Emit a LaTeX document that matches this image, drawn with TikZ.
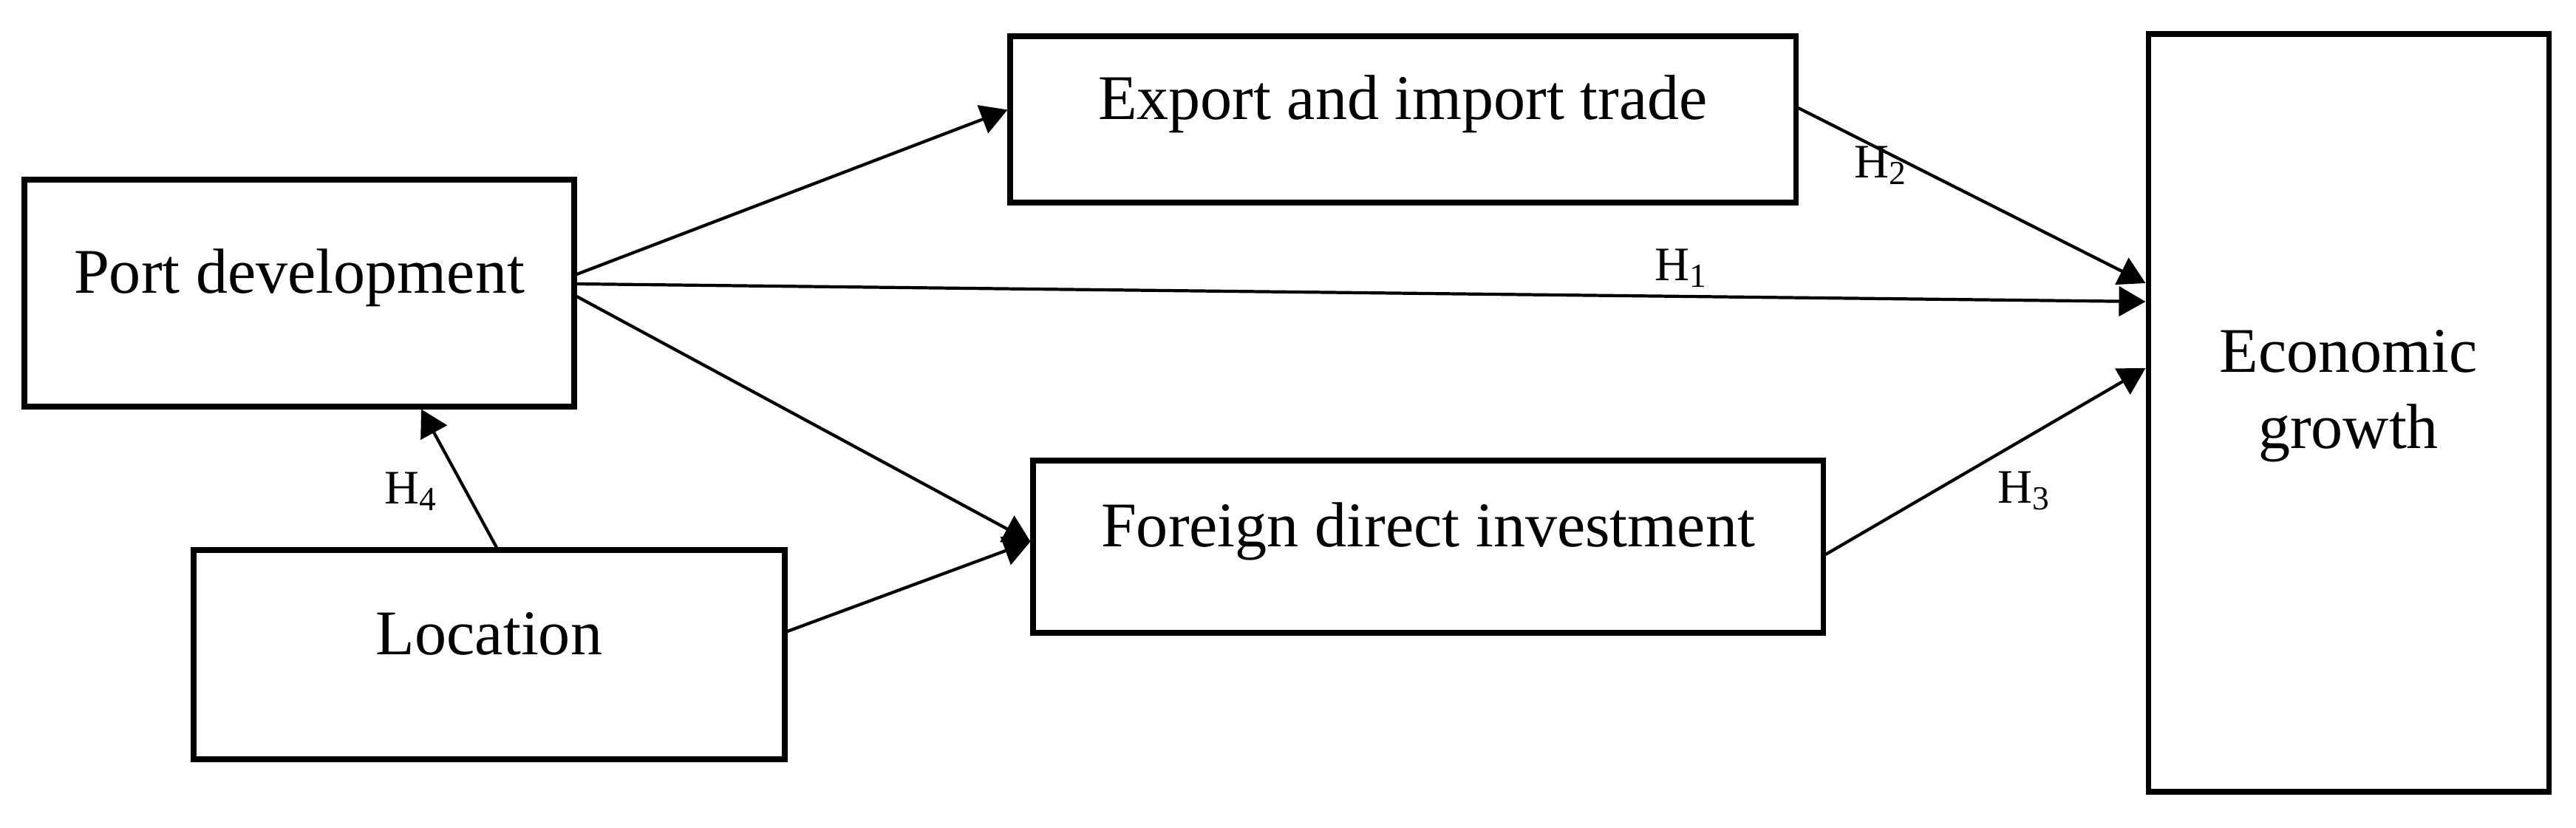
\documentclass[tikz,border=0pt]{standalone}
\usepackage{fontspec}
\setmainfont{Liberation Serif}
\usepackage{tikz}
\usetikzlibrary{arrows.meta}

\begin{document}
\begin{tikzpicture}[
        box/.style={draw=black, line width=2pt, inner sep=0pt, text height=6mm, text depth=6mm,
                    align=center, font=\fontsize{24.5}{29.3}\selectfont},
        hyp/.style={inner sep=0pt, anchor=base, font=\fontsize{18.5}{22}\selectfont},
        arr/.style={black, line width=1.2pt, -{Triangle[length=3.6mm,width=4mm]}}]
            \useasboundingbox (0,0) rectangle (34.86,-11.2);
            \node [box, minimum width=7.44cm, minimum height=3.07cm] (port) at (4.05,-3.965) {Port development};
            \node [box, minimum width=10.63cm, minimum height=2.25cm] (export) at (18.985,-1.615) {Export and import trade};
            \node [box, minimum width=10.69cm, minimum height=2.33cm] (fdi) at (19.325,-7.395) {Foreign direct investment};
            \node [box, minimum width=8.00cm, minimum height=2.83cm] (loc) at (6.62,-8.855) {Location};
            \node [box, minimum width=5.42cm, minimum height=10.25cm, text height=15.6mm] (econ) at (31.78,-5.585) {Economic\\growth};
            \draw [arr] ([yshift=2.55mm]port.east) -- ([yshift=1.3mm]export.west);
            \draw [arr] ([yshift=1.25mm]port.east) -- ([yshift=15.05mm]econ.west);
            \node [hyp] (h1) at (22.75,-3.79) {H\textsubscript{1}};
            \draw [arr] ([yshift=-0.45mm]port.east) -- ([yshift=0.7mm]fdi.west);
            \draw [arr] ([yshift=1.55mm]export.east) -- ([yshift=17.55mm]econ.west);
            \node [hyp] (h2) at (25.45,-2.40) {H\textsubscript{2}};
            \draw [arr] ([yshift=-1.05mm]fdi.east) -- ([yshift=6.05mm]econ.west);
            \node [hyp] (h3) at (27.39,-6.80) {H\textsubscript{3}};
            \draw [arr] ([xshift=1mm]loc.north) -- ([xshift=16.5mm]port.south);
            \node [hyp] (h4) at (5.56,-6.81) {H\textsubscript{4}};
            \draw [arr] ([yshift=3.15mm]loc.east) -- ([yshift=0.7mm]fdi.west);
\end{tikzpicture}
\end{document}
